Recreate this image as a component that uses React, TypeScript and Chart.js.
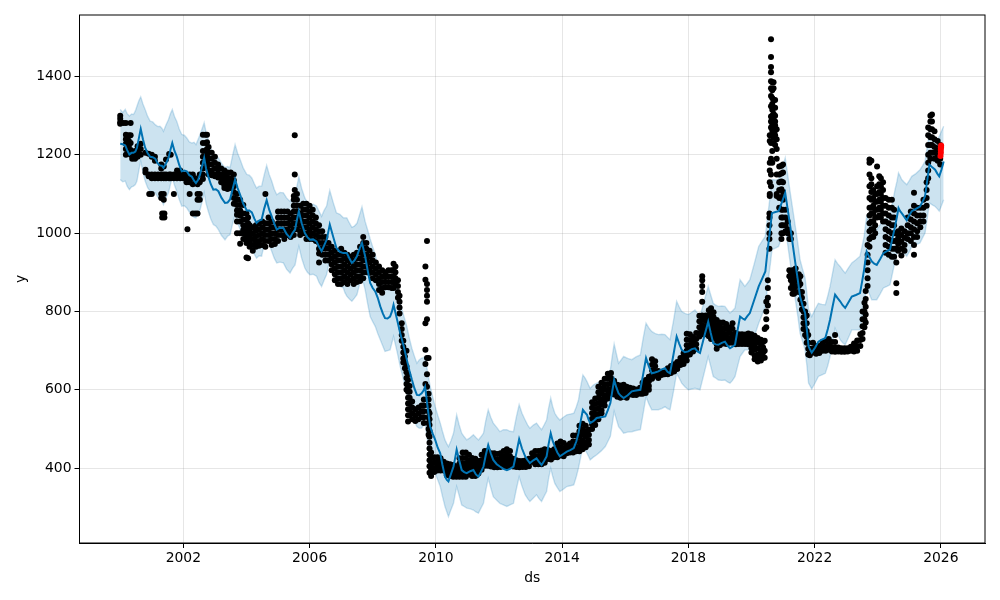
import React, { useEffect, useRef } from "react";
import { Chart, registerables } from "chart.js";

Chart.register(...registerables);

const xTicks = [2002, 2006, 2010, 2014, 2018, 2022, 2026];
const yTicks = [400, 600, 800, 1000, 1200, 1400];

const fcstYears = [
  2000.00,2000.08,2000.16,2000.22,2000.29,2000.36,2000.42,2000.48,2000.53,2000.59,2000.65,2000.72,2000.79,2000.87,2000.95,2001.03,2001.11,2001.19,2001.26,2001.32,
  2001.37,2001.45,2001.53,2001.59,2001.65,2001.72,2001.79,2001.87,2001.95,2002.03,2002.11,2002.19,2002.27,2002.34,2002.40,2002.47,2002.53,2002.60,2002.66,2002.72,
  2002.79,2002.87,2002.95,2003.03,2003.11,2003.21,2003.32,2003.40,2003.48,2003.56,2003.64,2003.72,2003.80,2003.90,2004.01,2004.09,2004.17,2004.25,2004.32,2004.40,
  2004.48,2004.56,2004.64,2004.72,2004.80,2004.88,2004.96,2005.06,2005.17,2005.27,2005.38,2005.46,2005.54,2005.60,2005.66,2005.75,2005.85,2005.93,2006.01,2006.11,
  2006.22,2006.30,2006.38,2006.46,2006.54,2006.59,2006.64,2006.75,2006.85,2006.96,2007.07,2007.12,
  2007.18,2007.26,2007.34,2007.42,2007.50,2007.58,2007.66,2007.71,2007.76,2007.84,2007.92,2008.00,2008.08,2008.16,2008.24,2008.32,2008.39,2008.47,2008.55,2008.61,
  2008.66,2008.77,2008.87,2008.98,2009.08,2009.16,2009.24,2009.32,2009.40,2009.47,2009.55,2009.61,2009.66,2009.74,2009.82,2009.90,2009.98,2010.06,2010.14,2010.21,
  2010.29,2010.35,2010.40,2010.48,2010.56,2010.61,2010.66,2010.74,2010.82,2010.90,2010.98,2011.09,2011.19,2011.27,2011.35,2011.43,2011.51,2011.58,2011.66,2011.74,
  2011.82,2011.93,2012.03,2012.14,2012.25,2012.35,2012.46,2012.55,2012.64,2012.73,2012.83,2012.91,2012.98,2013.09,2013.19,2013.27,2013.35,2013.43,2013.51,2013.57,
  2013.64,2013.70,2013.77,2013.85,2013.93,2014.04,2014.15,2014.26,2014.37,2014.45,2014.52,2014.59,2014.66,2014.73,2014.79,2014.84,2014.89,2014.99,2015.10,2015.24,
  2015.37,2015.45,2015.53,2015.59,2015.65,2015.72,2015.79,2015.87,2015.95,2016.08,2016.21,2016.34,2016.48,2016.57,
  2016.66,2016.75,2016.84,2016.94,2017.05,2017.16,2017.26,2017.34,2017.42,2017.53,2017.63,2017.71,2017.79,2017.89,2018.00,2018.11,2018.21,2018.29,2018.37,2018.50,
  2018.63,2018.71,2018.79,2018.87,2018.95,2019.06,2019.16,2019.24,2019.32,2019.40,2019.48,2019.56,2019.64,2019.72,2019.79,2019.87,2019.95,2020.09,2020.23,2020.34,
  2020.44,2020.49,2020.54,2020.60,2020.65,2020.76,2020.86,2020.97,2021.07,2021.15,2021.23,2021.31,2021.39,2021.47,2021.54,2021.62,2021.70,2021.76,2021.81,2021.86,
  2021.91,2022.02,2022.12,2022.23,2022.34,2022.42,2022.49,2022.57,2022.65,2022.73,2022.81,2022.89,2022.97,2023.08,2023.18,2023.31,2023.44,2023.51,2023.57,2023.61,
  2023.65,2023.73,2023.81,2023.89,2023.97,2024.08,2024.18,2024.29,2024.39,2024.47,2024.55,2024.61,2024.66,2024.71,2024.76,2024.84,2024.92,2025.00,2025.08,2025.21,
  2025.34,2025.42,2025.50,2025.57,2025.64,2025.73,2025.82,2025.89,2025.95,2026.02,2026.09,
];
const yhat = [
  1228,1227,1224,1212,1201,1205,1205,1208,1218,1242,1266,1240,1218,1204,1195,1194,1190,1178,1173,1172,
  1167,1178,1192,1212,1230,1210,1196,1174,1158,1160,1158,1148,1144,1134,1128,1136,1150,1172,1192,1165,
  1145,1125,1111,1112,1107,1090,1077,1078,1086,1112,1137,1115,1098,1075,1058,1058,1053,1037,1026,1032,
  1034,1062,1084,1060,1043,1024,1009,1014,1013,998,988,1000,1009,1034,1056,1025,1000,990,983,984,
  979,965,954,968,983,1002,1022,990,962,952,949,949,
  949,936,924,930,941,960,975,958,941,905,873,860,851,835,813,795,783,782,787,800,
  817,780,745,712,677,650,626,604,587,586,591,598,608,555,506,488,472,452,438,408,
  378,370,366,385,404,425,447,420,395,390,387,392,395,384,378,390,404,432,459,438,
  421,410,404,398,395,398,404,438,474,450,430,420,413,420,425,416,408,418,430,460,
  489,470,455,440,430,436,442,446,451,468,489,520,549,542,536,524,515,520,528,530,
  532,548,566,596,625,606,591,584,579,586,596,598,600,640,
  681,660,642,644,647,652,655,646,642,690,736,718,702,696,698,704,706,698,694,735,
  774,745,719,716,715,720,723,713,706,710,715,752,787,782,779,788,796,830,864,884,
  902,940,975,1015,1051,1054,1056,1080,1103,1060,1017,970,924,880,838,815,796,750,711,702,
  695,708,723,728,732,755,779,812,843,834,826,816,809,824,838,842,847,878,907,932,
  953,940,928,922,919,934,949,954,958,988,1017,1042,1064,1056,1051,1042,1033,1046,1056,1062,
  1068,1080,1094,1135,1175,1168,1162,1152,1145,1162,1183,
];
const yhatUpper = [
  1316,1308,1316,1305,1299,1304,1303,1312,1324,1338,1348,1330,1316,1298,1286,1284,1277,1272,1273,1268,
  1260,1276,1290,1305,1316,1298,1286,1266,1252,1250,1243,1233,1230,1232,1226,1240,1252,1268,1282,1258,
  1239,1216,1201,1200,1192,1178,1167,1170,1167,1198,1226,1204,1188,1166,1150,1148,1141,1126,1115,1120,
  1120,1148,1173,1150,1133,1112,1098,1104,1103,1090,1081,1090,1094,1120,1144,1114,1090,1078,1073,1074,
  1069,1056,1043,1058,1069,1090,1109,1078,1052,1048,1039,1039,
  1039,1026,1015,1018,1025,1046,1067,1048,1030,1008,985,965,945,918,890,872,856,858,860,876,
  894,858,822,790,762,732,706,686,668,676,681,682,685,645,609,582,557,535,515,494,
  472,462,455,470,489,512,536,510,489,480,472,478,485,478,472,480,489,520,549,530,
  515,504,493,498,498,494,493,530,562,540,523,510,502,510,515,506,498,510,523,552,
  579,558,540,530,523,530,536,538,540,556,574,608,638,630,621,612,604,612,617,622,
  625,638,651,686,717,692,668,676,685,680,677,684,689,732,
  770,758,749,744,741,742,741,734,728,776,826,812,800,795,792,798,804,796,787,826,
  864,842,821,816,813,814,813,804,796,802,809,846,881,872,864,872,881,922,966,980,
  992,1028,1060,1100,1137,1136,1137,1166,1192,1148,1103,1060,1017,974,932,908,885,844,804,796,
  787,806,821,818,817,840,864,898,932,922,915,906,898,912,924,932,941,968,992,1018,
  1043,1030,1017,1012,1009,1022,1034,1040,1047,1078,1111,1132,1154,1146,1137,1130,1124,1134,1145,1152,
  1162,1172,1183,1220,1256,1244,1230,1238,1247,1260,1273,
];
const yhatLower = [
  1137,1131,1133,1120,1111,1118,1120,1124,1133,1160,1184,1155,1133,1116,1107,1106,1103,1092,1086,1083,
  1073,1090,1103,1124,1141,1122,1107,1086,1069,1070,1064,1054,1047,1040,1039,1052,1060,1082,1103,1076,
  1056,1036,1022,1018,1009,994,983,992,996,1024,1047,1026,1009,988,971,970,962,946,936,942,
  941,970,996,972,954,936,924,926,924,908,898,910,919,944,966,936,911,900,894,895,
  890,874,864,880,894,914,932,900,873,864,860,848,
  839,832,826,834,843,868,890,872,856,820,787,774,762,744,728,712,698,700,702,720,
  736,698,660,625,591,562,536,520,506,502,502,510,515,468,421,404,387,370,353,328,
  302,288,276,294,310,332,353,330,306,302,298,296,293,288,285,298,310,342,374,350,
  327,318,310,306,302,306,310,346,378,354,332,322,315,324,332,322,315,328,340,372,
  400,380,361,350,340,346,353,355,357,378,400,428,455,446,438,430,421,428,434,444,
  455,468,481,512,545,525,506,498,489,492,493,496,498,540,
  583,564,549,549,549,552,557,552,549,596,642,630,617,608,600,602,604,602,600,642,
  685,660,634,630,625,624,625,620,617,624,634,660,685,694,702,702,702,736,770,792,
  813,850,885,922,958,962,966,992,1017,970,924,878,830,788,745,724,702,660,617,610,
  602,618,634,638,642,662,685,722,757,742,728,720,715,734,753,753,753,785,817,840,
  864,846,830,830,830,845,860,864,868,898,928,950,975,966,958,950,941,952,966,970,
  975,988,1000,1038,1077,1072,1068,1062,1056,1070,1085,
];

// each row: year, then the observed values read at that year
const observedRows: number[][] = [
  [2000.0,1300,1292,1283,1279],[2000.1,1281],[2000.18,1281,1251,1240,1228,1215,1200],[2000.27,1250,1236,1222,1206],[2000.33,1281,1250,1230,1212,1200],
  [2000.38,1200,1190],[2000.47,1210,1198,1190],[2000.55,1222,1208,1195],[2000.65,1228,1215,1200],[2000.8,1205,1162,1155],[2000.9,1203,1150,1145],
  [2000.92,1100],[2001.0,1200,1195,1150,1140,1100],[2001.1,1195,1185,1150,1140],[2001.2,1150,1140],[2001.3,1175,1165,1150,1140,1100,1090],
  [2001.33,1050,1040],[2001.38,1170,1150,1140,1100,1085],[2001.4,1050,1040],[2001.45,1188,1150,1140],[2001.55,1202,1150,1140],[2001.6,1200,1150,1140],
  [2001.7,1150,1140,1100],[2001.8,1160,1150,1140],[2001.9,1160,1150,1140],[2002.0,1150,1140],[2002.1,1150,1140,1130],[2002.13,1010],[2002.2,1150,1140,1130,1100],
  [2002.3,1150,1140,1125,1050],[2002.38,1140,1128,1050],[2002.45,1125,1100,1085,1050],[2002.52,1150,1130,1100,1085],[2002.62,1251,1230,1210,1195,1180,1165,1150,1138],
  [2002.7,1251,1230,1210,1195,1180],[2002.75,1251,1232,1215,1200,1185,1170],[2002.8,1220,1205,1190,1175,1160,1150],[2002.9,1205,1190,1175,1160,1148],
  [2003.0,1195,1180,1165,1150,1145],[2003.1,1175,1162,1150,1142],[2003.2,1165,1150,1140,1130],[2003.3,1160,1148,1135,1122,1115],[2003.4,1155,1142,1130,1118,1113],
  [2003.5,1155,1140,1128,1115],[2003.6,1150,1135,1120,1105,1090,1075],[2003.7,1100,1085,1072,1058,1047,1030,1000],[2003.8,1085,1072,1058,1045,1030,1000,973],
  [2003.9,1072,1050,1035,1020,1008,1000,985],[2004.0,1050,1035,1020,1005,990,975,938],[2004.05,1040,1025,1010,995,980,936],[2004.1,1020,1006,992,978,965],
  [2004.2,1015,1000,985,970,955],[2004.3,1020,1006,992,978,965],[2004.4,1025,1010,995,980,968],[2004.5,1030,1015,1000,985,970],[2004.6,1100,1025,1010,995,980,965],
  [2004.7,1040,1025,1010,995,980],[2004.8,1030,1015,1000,985,970],[2004.9,1015,1000,985,972],[2005.0,1055,1040,1025,1010,995,980],[2005.1,1055,1040,1025,1010,995],
  [2005.2,1055,1040,1025,1010,995,985],[2005.3,1055,1040,1025,1010,995],[2005.4,1050,1035,1020,1005,990],[2005.5,1095,1085,1070,1055,1040,1025,1010,995],
  [2005.53,1250,1150,1110],[2005.6,1100,1085,1070,1055,1040,1025,1010],[2005.7,1070,1050,1035,1020,1005,995],[2005.8,1075,1060,1045,1030,1015,1000],
  [2005.9,1075,1060,1045,1030,1015,1000,985],[2006.0,1070,1055,1040,1025,1010,995,985],[2006.1,1060,1045,1030,1015,1000,985],[2006.2,1040,1025,1010,995,980],
  [2006.3,1020,1005,990,975,960,948,925],[2006.4,1005,990,975,960,945],[2006.5,990,975,960,945,930],[2006.6,975,960,945,930],[2006.7,965,950,935,920,905],
  [2006.8,955,940,925,910,895,880],[2006.9,945,930,915,900,885,870],[2007.0,960,945,930,915,900,885,870],[2007.1,950,935,920,905,890,875],[2007.2,945,930,915,900,885,870],
  [2007.3,940,925,910,895,880],[2007.4,945,930,915,900,885,870],[2007.5,950,935,920,905,890,875],[2007.6,965,950,935,920,905,890,878],[2007.7,990,975,960,945,930,915,900,885],
  [2007.8,975,960,945,930,915,900],[2007.9,955,940,925,910,898],[2008.0,945,930,915,900,885],[2008.1,925,910,895,880],[2008.2,915,900,885,870,855],[2008.3,905,890,875,860,848],
  [2008.4,900,888,875,862],[2008.5,905,890,875,862],[2008.6,905,890,875,860],[2008.66,922,905,890,875,860],[2008.72,915,900,885,870],[2008.8,880,865,850,835],
  [2008.85,840,825,810,795],[2008.92,770,755,740,725],[2008.97,725,710,695,680,670],[2009.02,700,685,670,655],[2009.07,700,660,645,630,615,600],
  [2009.12,640,625,610,595,580,565,550,535,519],[2009.17,610,595,580,565,550,535],[2009.25,570,555,540,525],[2009.35,550,535,520],[2009.45,555,540,525],[2009.55,560,545,530],
  [2009.62,575,560,545,530,515],[2009.67,915,881,770,702,666,615],[2009.72,980,870,855,840,825,780,681,640,608],[2009.77,681,590,575,560,545,530,515,500,485],
  [2009.8,540,525,510,495,480,465,450,435,420,405,388],[2009.85,440,425,410,395,380],[2009.95,428,414,400,390],[2010.05,428,415,402,394],[2010.15,425,412,400,394],
  [2010.25,416,404,394],[2010.35,412,400,390,382],[2010.45,410,398,388,380],[2010.55,408,396,385,378],[2010.65,405,394,384,378],[2010.75,425,412,398,386,378],
  [2010.85,440,426,412,400,388,378],[2010.95,440,426,412,400,388,378],[2011.05,434,420,408,396,384],[2011.15,426,414,402,390,380],[2011.25,424,412,400,388,380],
  [2011.35,418,406,395,386],[2011.45,434,420,408,396],[2011.55,444,430,418,406],[2011.65,444,430,418,406],[2011.75,438,426,414,404],[2011.85,438,424,412,402],
  [2011.95,436,422,412,402],[2012.05,438,424,412,403],[2012.15,444,430,418,406],[2012.25,448,434,422,410,402],[2012.35,444,430,418,406],[2012.45,424,414,404],
  [2012.55,420,411,403],[2012.65,418,410,402],[2012.75,418,410,403],[2012.85,420,411,403],[2012.95,424,414,405],[2013.05,438,426,416],[2013.15,444,430,418,410],
  [2013.25,444,430,418,410],[2013.35,445,432,420,410],[2013.45,448,434,422,414],[2013.55,446,434,423],[2013.65,444,432,422],[2013.75,448,438,428],[2013.85,463,450,438,428],
  [2013.95,468,454,442,432],[2014.05,464,450,438,430],[2014.15,458,447,438],[2014.25,463,450,440],[2014.35,483,468,454,440],[2014.45,483,468,454,443],
  [2014.55,508,494,480,466,452,443],[2014.65,513,499,485,471,457,448],[2014.75,508,494,480,466,453],[2014.85,498,485,472,460],[2014.95,568,554,540,526,512,500],
  [2015.05,578,564,550,536,522,510],[2015.15,608,594,580,566,552,538,525],[2015.25,618,604,590,576,562,548,540],[2015.35,628,614,600,586,572,560],
  [2015.45,641,628,614,600,588,578],[2015.55,643,630,616,602,590],[2015.65,623,610,597,588],[2015.75,613,602,590,582],[2015.85,611,600,588,580],
  [2015.95,613,602,590,582],[2016.05,608,598,588,580],[2016.15,605,596,588],[2016.25,603,595,587],[2016.35,601,594,587],[2016.47,605,597,590],
  [2016.55,618,608,598,590],[2016.65,625,614,603,592],[2016.75,633,622,610,600],[2016.85,678,664,650,638,628],[2016.95,673,660,647,636],[2017.05,648,638,630],
  [2017.15,644,638],[2017.25,645,640],[2017.35,655,646,640],[2017.45,661,651,643],[2017.55,665,655,647],[2017.65,671,661,653],[2017.75,681,671,663],[2017.85,693,683,673,666],
  [2017.95,743,728,714,700,686,675],[2018.05,742,727,714,702,690],[2018.15,735,722,710,698],[2018.25,745,730,716,704],[2018.35,789,775,760,745,736],
  [2018.44,890,880,865,850,825,790,778,765,752,742],[2018.55,790,776,763,750,742],[2018.65,803,790,777,764,750,737],[2018.72,808,795,781,767,753,740,730],
  [2018.8,798,785,771,758,745,735],[2018.9,778,765,752,740,728,716,705],[2019.0,772,760,748,736,724,714],[2019.1,772,758,745,732,718],[2019.2,768,755,742,730,717],
  [2019.3,760,746,732,720],[2019.4,770,756,742,730,720],[2019.5,745,733,722,716],[2019.6,742,731,721,717],[2019.7,742,731,721,717],[2019.8,741,730,721,717],
  [2019.9,744,733,722,716],[2020.0,742,730,718,706,695],[2020.1,738,726,714,702,688,678],[2020.2,732,720,705,690,677,672],[2020.3,728,715,700,686,675],
  [2020.37,722,708,695,682],[2020.42,755,725,700,682],[2020.47,825,800,780,760],[2020.52,880,860,835,815],[2020.57,1050,1040,1020,1000,985,960],
  [2020.58,1250,1235,1180,1160,1130,1100,1095],[2020.62,1495,1450,1424,1411,1388,1370,1350,1324,1298,1285,1270,1250,1230,1190,1150,1120],
  [2020.66,1385,1365,1345,1330,1315,1300,1275,1262,1250,1210,1180],[2020.7,1385,1370,1340,1320,1305,1295,1280,1270,1245,1230],[2020.75,1340,1320,1300,1285,1275,1262,1250,1225],
  [2020.8,1265,1240,1215,1190,1150,1100,1095],[2020.88,1170,1150,1130,1110,1090,1065],[2020.95,1172,1152,1132,1112,1092,1060,1040,1020,1000,985],
  [2021.0,1175,1155,1130,1105,1085,1060,1040,1020,1000],[2021.08,1060,1040,1020,1005],[2021.15,1030,1010,1000],[2021.2,1000,985,905,890],[2021.25,1000,985,900,880,860],
  [2021.3,905,885,870,860,845],[2021.35,905,890,875,860,845],[2021.4,910,895,880,865,850],[2021.5,895,880,865,850],[2021.55,890,870,850,830],[2021.6,850,835,820,805],
  [2021.65,820,800,785,770,755],[2021.7,800,785,770,755,740],[2021.75,790,770,750,735,720],[2021.8,740,720,705,690],[2021.85,705,695,688],[2021.95,720,705,695],
  [2022.05,712,702,692],[2022.15,712,702,694],[2022.25,722,710,700],[2022.35,726,712,700],[2022.45,730,716,702],[2022.55,722,708,698],[2022.65,740,722,708,697],
  [2022.75,708,698],[2022.85,706,697],[2022.95,706,697],[2023.05,706,698],[2023.15,710,700],[2023.25,718,706,698],[2023.35,726,712,700],[2023.45,742,727,712],
  [2023.52,800,780,762,745,730],[2023.58,822,800,780,760],[2023.62,852,832,812,792,772],[2023.68,970,945,925,905,885,865],[2023.74,1188,1180,1150,1120,1090,1065,1045,1025,1005,985,965],
  [2023.8,1185,1140,1125,1105,1085,1065,1050,1030,1010,990],[2023.86,1110,1090,1070,1050,1030,1010,990],[2023.92,1100,1080,1060,1040,1020,1000],[2023.98,1170,1120,1100,1080,1060,1040],
  [2024.05,1145,1125,1105,1085,1065,1045],[2024.1,1140,1120,1100,1080,1060,1040],[2024.17,1130,1110,1090,1070,1050,1030],[2024.25,1090,1070,1050,1030,1010,990,970,950],
  [2024.35,1085,1065,1045,1025,1005,985,965,945],[2024.45,1085,1065,1040,1020,1000,980,960,940],[2024.52,1060,1040,1020,1000,980,960,940],[2024.59,1000,980,960,925,872,847],
  [2024.65,1005,988,972,955],[2024.75,1012,995,978,960,943],[2024.85,1005,988,970,955],[2024.95,1040,1020,1000,985],[2025.05,1055,1035,1015,1000,980],
  [2025.15,1103,1070,1050,1030,1010,990,970,945],[2025.25,1065,1045,1025,1005,990],[2025.35,1065,1045,1030,1015],[2025.45,1085,1065,1045,1030],[2025.55,1130,1110,1090,1070],
  [2025.6,1270,1250,1225,1200,1180,1160,1140],[2025.67,1300,1285,1265,1245,1225,1205,1190],[2025.72,1303,1285,1265,1245,1225,1205],[2025.8,1260,1240,1220,1205,1190],
  [2025.9,1235,1215,1200,1185],[2025.98,1225,1205,1190,1175],
];

const recentYears = [2025.99, 2026.0, 2026.0, 2026.01, 2026.01, 2026.0];
const recentValues = [1197, 1205, 1212, 1220, 1224, 1218];

const framePlugin = {
  id: "frame",
  afterDraw(chart: any) {
    const { ctx, chartArea: a } = chart;
    ctx.save();
    ctx.strokeStyle = "#000";
    ctx.lineWidth = 1;
    ctx.strokeRect(a.left, a.top, a.right - a.left, a.bottom - a.top);
    ctx.restore();
  },
};

const FONT = "'DejaVu Sans'";

export default function App() {
  const ref = useRef<HTMLCanvasElement>(null);
  useEffect(() => {
    document.body.style.margin = "0";
    const pts = (xs: number[], ys: number[]) => xs.map((x, i) => ({ x, y: ys[i] }));
    const observed = observedRows.flatMap(([yr, ...vals]) => vals.map((v) => ({ x: yr, y: v })));
    const chart = new Chart(ref.current!, {
      type: "scatter",
      data: {
        datasets: [
          { label: "y", data: observed, pointRadius: 3, pointBorderWidth: 0, backgroundColor: "#000", order: 2 },
          { label: "yhat", data: pts(fcstYears, yhat), showLine: true, pointRadius: 0, borderColor: "#0072B2", borderWidth: 2, order: 1 },
          {
            label: "upper", data: pts(fcstYears, yhatUpper), showLine: true, pointRadius: 0,
            borderColor: "rgba(0,114,178,0.2)", borderWidth: 1.4, backgroundColor: "rgba(0,114,178,0.2)", fill: "+1", order: 3,
          },
          { label: "lower", data: pts(fcstYears, yhatLower), showLine: true, pointRadius: 0, borderColor: "rgba(0,114,178,0.2)", borderWidth: 1.4, order: 3 },
          { label: "recent", data: pts(recentYears, recentValues), pointRadius: 3, pointBorderWidth: 0, backgroundColor: "#ff0000", order: 0 },
        ],
      } as any,
      options: {
        animation: false,
        responsive: false,
        layout: { padding: { top: 15, right: 15, left: 0, bottom: 0 } },
        plugins: { legend: { display: false }, tooltip: { enabled: false } },
        scales: {
          x: {
            type: "linear",
            min: 1998.71,
            max: 2027.4,
            afterBuildTicks: (s: any) => { s.ticks = xTicks.map((value) => ({ value })); },
            afterFit: (s: any) => { s.height = 57; },
            ticks: { color: "#000", font: { family: FONT, size: 13.9 }, maxRotation: 0, padding: 2, callback: (v: any) => String(v) },
            grid: { color: "rgba(128,128,128,0.2)", lineWidth: 1, tickColor: "#000", tickLength: 5 },
            border: { color: "#000", width: 1 },
            title: { display: true, text: "ds", color: "#000", font: { family: FONT, size: 13.9 }, padding: { top: 2, bottom: 13 } },
          },
          y: {
            min: 208.8,
            max: 1557,
            afterBuildTicks: (s: any) => { s.ticks = yTicks.map((value) => ({ value })); },
            afterFit: (s: any) => { s.width = 79.5; },
            ticks: { color: "#000", font: { family: FONT, size: 13.9 }, padding: 3, callback: (v: any) => String(v) },
            grid: { color: "rgba(128,128,128,0.2)", lineWidth: 1, tickColor: "#000", tickLength: 5 },
            border: { color: "#000", width: 1 },
            title: { display: true, text: "y", color: "#000", font: { family: FONT, size: 13.9 }, padding: { top: 13, bottom: 0 } },
          },
        },
      } as any,
      plugins: [framePlugin],
    });
    return () => chart.destroy();
  }, []);
  return <canvas ref={ref} width={1000} height={600} style={{ display: "block" }} />;
}
